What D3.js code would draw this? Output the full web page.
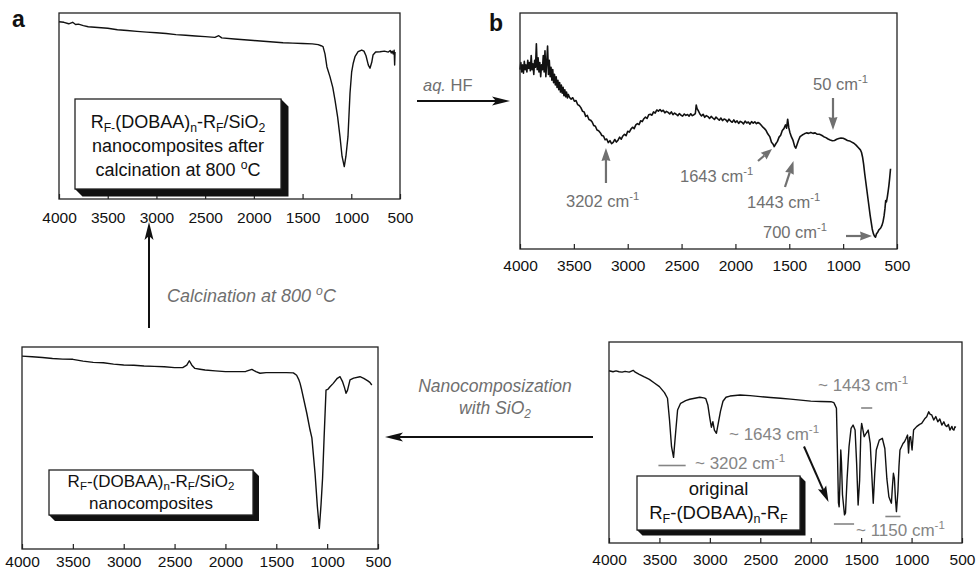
<!DOCTYPE html>
<html><head><meta charset="utf-8">
<script src="https://cdn.jsdelivr.net/npm/d3@7"></script>
<style>
html,body{margin:0;padding:0;background:#fff;}
svg{display:block;}
</style></head><body>
<svg id="chart" width="978" height="572"></svg>
<script>
// ---------------- DATA ----------------
const tickValues = [4000, 3500, 3000, 2500, 2000, 1500, 1000, 500];

// panel a: after calcination at 800 C  [wavenumber, relative transmittance]
const spectrumA = [[4000,95.3],[3950,95],[3900,94.2],[3860,95],[3830,93.8],[3800,94],[3750,93.2],[3700,92.6],[3600,92.2],[3500,91.8],[3400,91],[3300,90.6],[3200,90.1],[3100,89.7],[3000,89.4],[2900,89],[2800,88.4],[2700,88],[2600,87.6],[2500,87.3],[2400,86.9],[2360,87.8],[2330,86.6],[2200,86],[2100,85.6],[2000,85.2],[1900,84.8],[1800,84.4],[1700,84],[1600,83.8],[1500,83.6],[1400,83.4],[1340,83],[1310,82.4],[1290,81.9],[1270,78],[1250,71],[1219,65.8],[1190,60],[1167,53.2],[1140,44],[1116,33.5],[1095,23],[1072,17.4],[1055,23],[1034,33.5],[1013,57],[996,68.4],[980,73],[962,76.5],[930,79.2],[893,80.1],[870,79.5],[849,77],[825,72],[808,70.3],[790,73.5],[777,77.4],[750,79],[705,79.2],[660,79.5],[620,79],[600,79.8],[590,78.5],[580,79.5],[570,78],[560,80],[555,72],[551,79]];

// panel b: after aq. HF treatment
const spectrumB = [[4000,76],[3992,79],[3984,75],[3976,78],[3968,74.5],[3960,79.5],[3952,76],[3944,78],[3936,75],[3928,80],[3920,76.5],[3912,79],[3904,75.5],[3896,82],[3888,76],[3880,78.5],[3872,74],[3864,80],[3856,77],[3848,87],[3840,76],[3832,81],[3824,75],[3816,79],[3808,73],[3800,78],[3792,76],[3784,82],[3776,75],[3768,84],[3760,73],[3752,79],[3744,86],[3736,74],[3728,80],[3720,73],[3712,77],[3704,71.5],[3696,76],[3688,70.5],[3680,74],[3672,69.5],[3664,73],[3656,68.5],[3648,71.5],[3640,67.5],[3632,70.5],[3624,66.5],[3616,69.5],[3608,66],[3600,68.5],[3592,65],[3584,67.5],[3576,64.5],[3568,66.5],[3560,64],[3552,65.5],
[3540,64.2],[3525,63.5],[3510,64.1],[3495,62.6],[3480,62.9],[3465,61.2],[3450,60.8],[3435,59.9],[3420,58.4],[3405,58.1],[3390,56.2],[3375,56.6],[3360,54.9],[3345,54.6],[3330,53.8],[3315,52.3],[3300,52],[3285,50.4],[3270,50.1],[3255,49.3],[3240,48.1],[3225,47.9],[3210,46.3],[3195,46.6],[3180,45.1],[3165,45.9],[3150,44.6],[3135,45.2],[3120,46.4],[3105,45.3],[3090,46.1],[3075,47.4],[3060,46.5],[3045,47.9],[3030,48.6],[3015,48],[3000,49.9],[2985,49.5],[2970,50.8],[2955,51.6],[2940,51],[2925,52.6],[2910,53.1],[2895,52.7],[2880,54.3],[2865,54],[2850,55.2],[2835,55.9],[2820,55.3],[2805,56.9],[2790,57.1],[2775,56.7],[2760,58.1],[2745,57.6],[2730,58.9],[2715,58.4],[2700,59.1],[2685,58.3],[2670,58.8],[2655,57.7],[2640,58.3],[2625,57.9],[2610,57.2],[2595,58.1],[2580,56.9],[2565,57.6],[2550,57.1],[2535,56.5],[2520,57.4],[2505,56.7],[2490,56.3],[2475,57.2],[2460,56.6],[2445,57],[2430,56.3],[2415,57.3],[2400,56.5],[2385,56.9],[2372,57.4],[2364,61],[2356,59.5],[2345,58.6],[2330,57.2],[2315,56.4],[2300,57.1],[2285,55.8],[2270,56.5],[2255,56.1],[2240,55.3],[2225,56.2],[2210,55.5],[2195,54.9],[2180,55.9],[2165,55.2],[2150,54.6],[2135,55.5],[2120,54.4],[2105,55.1],[2090,54.8],[2075,53.9],[2060,55],[2045,54.2],[2030,53.7],[2015,54.7],[2000,53.6],[1985,54.3],[1970,53.2],[1955,54.1],[1940,53.7],[1925,53],[1910,54.2],[1895,53.4],[1880,53.8],[1865,52.9],[1850,54],[1835,53.3],[1820,53.9],[1805,53.1],[1790,53.6],[1775,53.2],[1760,52.4],[1745,51.6],[1730,51],[1715,50.2],[1700,48.8],
[1680,47.5],[1665,45.2],[1650,44.4],[1640,43.4],[1625,44.6],[1610,45.6],[1595,47.4],[1580,48.2],[1565,50.2],[1550,51],[1535,52.6],[1525,51.2],[1515,55],[1505,51.5],[1495,49.5],[1480,47.5],[1465,46],[1450,43.5],[1440,42.7],[1430,44],[1415,46],[1400,47.6],[1380,48.3],[1360,48.8],[1340,49.2],[1320,49],[1300,49.4],[1280,49],[1260,49.2],[1240,48.6],[1220,48.6],[1200,48.2],[1180,47.6],[1160,47.2],[1140,46.6],[1120,46.2],[1100,45.9],[1080,46],[1060,46.5],[1040,46.8],[1020,47],[1000,46.9],[980,46.5],[960,46],[940,45.8],[920,45.3],[900,44.8],[880,44],[860,43],[840,42],[830,41],[820,39],[810,36],[800,32],[790,28.5],[780,25],[770,21.5],[760,18],[750,14.5],[740,11.5],[730,8.5],[720,6.6],[710,5.5],[700,5],[690,6.5],[680,7],[670,8],[660,8.5],[650,9],[640,10],[630,11.5],[620,14],[612,17],[605,20.5],[598,20],[590,22],[582,24.5],[575,27],[568,30],[560,34]];

// panel c: R_F-(DOBAA)n-R_F/SiO2 nanocomposites
const spectrumC = [[4000,95.5],[3900,95.2],[3800,94.8],[3700,94.3],[3600,94],[3500,93.9],[3400,93],[3300,92.4],[3200,92.2],[3100,91.5],[3000,91.1],[2900,91],[2800,90.6],[2700,90.4],[2600,90.2],[2500,89.8],[2420,89.8],[2380,91],[2355,93.2],[2330,91],[2300,89.4],[2250,89],[2200,88.6],[2100,88.2],[2000,87.8],[1900,87.8],[1800,87.9],[1740,88.9],[1700,87.8],[1660,87],[1600,87.3],[1500,87.3],[1400,87.3],[1332,87.2],[1300,86],[1280,84],[1266,82],[1250,78.7],[1200,67.2],[1168,58.9],[1150,55],[1119,37.5],[1096,21],[1077,10.2],[1060,22],[1045,35],[1030,55],[1011,78.7],[990,79.2],[972,80.3],[940,82],[900,84.5],[873,85.3],[850,83],[830,80],[814,77.1],[800,78.5],[775,83.7],[740,84.6],[677,85.3],[640,84.5],[600,83.2],[580,82.5],[561,81.2]];

// panel d: original R_F-(DOBAA)n-R_F
const spectrumD = [[4000,85.7],[3960,85.2],[3930,85.6],[3900,85.2],[3870,85],[3840,85.4],[3800,85],[3760,85.9],[3740,85],[3700,83.9],[3650,82.6],[3600,81.4],[3550,79.6],[3500,77.8],[3450,74.8],[3420,72],[3400,61.2],[3380,47.9],[3360,42.6],[3340,54.6],[3320,66.2],[3290,69.5],[3240,70.8],[3200,71.5],[3150,72],[3100,72.5],[3060,72.2],[3040,71.8],[3020,68.7],[3000,62],[2985,57.6],[2970,60.3],[2955,56.2],[2935,54.6],[2915,60],[2895,65.5],[2870,70.5],[2840,72.5],[2800,73.1],[2700,73.6],[2600,73.3],[2500,72.8],[2400,72.4],[2300,72],[2200,71.6],[2100,71.1],[2000,70.6],[1900,70.4],[1800,70.3],[1770,69.8],[1760,68.7],[1745,67],[1735,45],[1725,20],[1718,18],[1710,30],[1702,46.3],[1695,40],[1685,24],[1665,14],[1655,15],[1640,31.3],[1620,48],[1600,57],[1580,58.7],[1560,56.2],[1545,40],[1530,18.9],[1515,31.3],[1503,55],[1495,59.5],[1485,57],[1470,52.9],[1450,54.6],[1430,56.2],[1410,49.6],[1395,34.7],[1380,19.8],[1365,34.7],[1350,46.3],[1320,51.2],[1290,52.1],[1265,47],[1245,32],[1225,23],[1210,21],[1200,19.8],[1190,28],[1180,34.7],[1170,32],[1160,22],[1150,15.6],[1135,26],[1125,38],[1115,46.3],[1100,47.9],[1085,49.5],[1070,50.4],[1055,52],[1040,53.7],[1030,44.8],[1020,52.5],[1010,52.9],[995,46.3],[980,56.2],[950,57.9],[920,59],[900,59.5],[870,61.8],[850,62.8],[830,65.3],[815,64],[800,63.7],[780,61.2],[760,62.9],[740,60.3],[720,61.7],[700,58.7],[680,60.3],[665,58.5],[650,57.9],[635,59],[620,56.2],[600,58],[590,56.5],[580,56.2],[570,57.8],[560,57.5]];

// ---------------- DRAWING ----------------
const FONT = "'Liberation Sans', Arial, Helvetica, sans-serif";
const svg = d3.select('#chart').attr('font-family', FONT);
svg.append('rect').attr('width', 978).attr('height', 572).attr('fill', '#fff');

const layouts = {
  a: {x0: 59,  x1: 400, y0: 13,  y1: 199, pad: 12.5},
  b: {x0: 520, x1: 897, y0: 13,  y1: 249, pad: 10.5},
  c: {x0: 22,  x1: 378, y0: 347, y1: 549, pad: 7},
  d: {x0: 609, x1: 962, y0: 342, y1: 543, pad: 11}
};

function drawPanel(key, data, lw) {
  const L = layouts[key];
  const x = d3.scaleLinear().domain([4000, 500]).range([L.x0, L.x1]);
  const y = d3.scaleLinear().domain([0, 100]).range([L.y1, L.y0]);
  const g = svg.append('g');
  const axis = d3.axisBottom(x).tickValues(tickValues).tickSize(-5)
    .tickPadding(L.pad).tickFormat(d3.format('d'));
  const ax = g.append('g').attr('transform', `translate(0,${L.y1})`).call(axis)
    .attr('font-family', FONT).attr('font-size', 15.5);
  ax.select('.domain').remove();
  ax.selectAll('.tick line').attr('stroke', '#222').attr('stroke-width', 1.2);
  ax.selectAll('.tick text').attr('fill', '#111');
  g.append('path').datum(data)
    .attr('d', d3.line().x(d => x(d[0])).y(d => y(d[1])))
    .attr('fill', 'none').attr('stroke', '#111').attr('stroke-width', lw)
    .attr('stroke-linejoin', 'round');
  g.append('rect').attr('x', L.x0).attr('y', L.y0)
    .attr('width', L.x1 - L.x0).attr('height', L.y1 - L.y0)
    .attr('fill', 'none').attr('stroke', '#222').attr('stroke-width', 1.3);
  return {x, y, g};
}

const pA = drawPanel('a', spectrumA, 1.4);
const pB = drawPanel('b', spectrumB, 1.6);
const pC = drawPanel('c', spectrumC, 1.4);
const pD = drawPanel('d', spectrumD, 1.4);

// rich text: segs = [[text, 'sub'|'sup'|null, italic?]]
function rich(parent, x, y, segs, size, opts = {}) {
  const t = parent.append('text').attr('x', x).attr('y', y)
    .attr('font-size', size).attr('fill', opts.fill || '#111')
    .attr('text-anchor', opts.anchor || 'start');
  if (opts.italic) t.attr('font-style', 'italic');
  let shift = 0;
  segs.forEach(s => {
    const [txt, kind, it] = s;
    let target = 0;
    if (kind === 'sub') target = 0.22 * size;
    if (kind === 'sup') target = -0.4 * size;
    const ts = t.append('tspan').text(txt).attr('dy', target - shift);
    shift = target;
    if (kind) ts.attr('font-size', size * 0.68);
    if (it === true) ts.attr('font-style', 'italic');
    if (it === false) ts.attr('font-style', 'normal');
  });
  return t;
}

function labelBox(x1, y1, x2, y2, d, lines, cx, baselines, size) {
  const g = svg.append('g');
  g.append('polygon')
    .attr('points', [[x2, y1], [x2 + d, y1 + d], [x2 + d, y2 + d], [x1 + d, y2 + d], [x1, y2], [x2, y2]].map(p => p.join(',')).join(' '))
    .attr('fill', '#111');
  g.append('rect').attr('x', x1).attr('y', y1).attr('width', x2 - x1).attr('height', y2 - y1)
    .attr('fill', '#fff').attr('stroke', '#222').attr('stroke-width', 1.3);
  lines.forEach((segs, i) => rich(g, cx, baselines[i], segs, size, {anchor: 'middle'}));
}

function arrow(x1, y1, x2, y2, o) {
  const color = o.color, len = o.len, hw = o.hw, notch = o.notch || 0;
  const ang = Math.atan2(y2 - y1, x2 - x1);
  const cos = Math.cos(ang), sin = Math.sin(ang);
  const bx = x2 - cos * (len - notch), by = y2 - sin * (len - notch);
  svg.append('line').attr('x1', x1).attr('y1', y1).attr('x2', bx).attr('y2', by)
    .attr('stroke', color).attr('stroke-width', o.w);
  const p = (dx, dy) => [x2 + dx * cos - dy * sin, y2 + dx * sin + dy * cos];
  const pts = [p(0, 0), p(-len, -hw), p(-len + notch, 0), p(-len, hw)];
  svg.append('polygon').attr('points', pts.map(q => q.join(',')).join(' ')).attr('fill', color);
}

// label boxes
labelBox(75, 99, 281, 189, 7.5, [
  [['R'], ['F-', 'sub'], ['(DOBAA)'], ['n', 'sub'], ['-R'], ['F', 'sub'], ['/SiO'], ['2', 'sub']],
  [['nanocomposites after']],
  [['calcination at 800 '], ['o', 'sup'], ['C']]
], 178, [128, 152, 176], 18);

labelBox(49, 470, 253, 515, 6, [
  [['R'], ['F', 'sub'], ['-(DOBAA)'], ['n', 'sub'], ['-R'], ['F', 'sub'], ['/SiO'], ['2', 'sub']],
  [['nanocomposites']]
], 151, [486.5, 508.5], 17);

labelBox(637, 476, 800, 530, 5.5, [
  [['original']],
  [['R'], ['F', 'sub'], ['-(DOBAA)'], ['n', 'sub'], ['-R'], ['F', 'sub']]
], 718.5, [495, 519], 18.5);

// panel letters
svg.append('text').attr('x', 12).attr('y', 27).attr('font-size', 23).attr('font-weight', 'bold').attr('fill', '#111').text('a');
svg.append('text').attr('x', 489).attr('y', 31).attr('font-size', 23).attr('font-weight', 'bold').attr('fill', '#111').text('b');

// process arrows & captions
const GRAY = '#6f6f6f';
arrow(417, 101, 510, 101, {color: '#111', w: 2, len: 18, hw: 4.5, notch: 4});
rich(svg, 423, 91, [['aq.', null, true], [' HF', null, false]], 16.5, {fill: GRAY});

arrow(149, 328, 149, 222, {color: '#111', w: 2, len: 18, hw: 4.5, notch: 4});
rich(svg, 167, 302, [['Calcination at 800 '], ['o', 'sup'], ['C']], 18, {fill: GRAY, italic: true});

arrow(593, 437, 385, 437, {color: '#111', w: 2, len: 18, hw: 4.5, notch: 4});
rich(svg, 495, 392, [['Nanocomposization']], 17.5, {fill: GRAY, italic: true, anchor: 'middle'});
rich(svg, 495, 414, [['with SiO'], ['2', 'sub']], 17.5, {fill: GRAY, italic: true, anchor: 'middle'});

// panel b annotations
const GB = '#707070';
const cm = (n, pre) => [[(pre || '') + n + ' cm'], ['-1', 'sup']];
rich(svg, 566, 207, cm('3202'), 16.5, {fill: GB});
arrow(pB.x(3202), 183, pB.x(3202), 148, {color: GB, w: 2.2, len: 13, hw: 4.5, notch: 1});
rich(svg, 680, 182, cm('1643'), 16.5, {fill: GB});
arrow(758, 161, 772, 149, {color: GB, w: 2.2, len: 11, hw: 4.5, notch: 1});
rich(svg, 747, 208, cm('1443'), 16.5, {fill: GB});
arrow(785, 187, 793.5, 161, {color: GB, w: 2.2, len: 13, hw: 4.5, notch: 1});
rich(svg, 813, 90, cm('50'), 16.5, {fill: GB});
arrow(833, 98, 833, 130, {color: GB, w: 2.2, len: 13, hw: 4.5, notch: 1});
rich(svg, 763, 238, cm('700'), 16.5, {fill: GB});
arrow(846, 236, 872, 236, {color: GB, w: 2.2, len: 12, hw: 4.5, notch: 1});

// panel d annotations
const GD = '#858585';
rich(svg, 818, 391, cm('1443', '~ '), 17, {fill: GD});
rich(svg, 729, 440, cm('1643', '~ '), 17, {fill: GD});
rich(svg, 695, 469, cm('3202', '~ '), 17, {fill: GD});
rich(svg, 856, 536, cm('1150', '~ '), 17, {fill: GD});
const bar = (w1, w2, yy) => svg.append('line').attr('x1', pD.x(w1)).attr('x2', pD.x(w2))
  .attr('y1', yy).attr('y2', yy).attr('stroke', GD).attr('stroke-width', 1.6);
bar(1500, 1390, 408);
bar(3510, 3240, 465.5);
bar(1770, 1570, 524);
bar(1260, 1110, 516.5);
arrow(804, 446.5, 828.5, 502, {color: '#111', w: 2, len: 16, hw: 4.5, notch: 3});
</script>
</body></html>
